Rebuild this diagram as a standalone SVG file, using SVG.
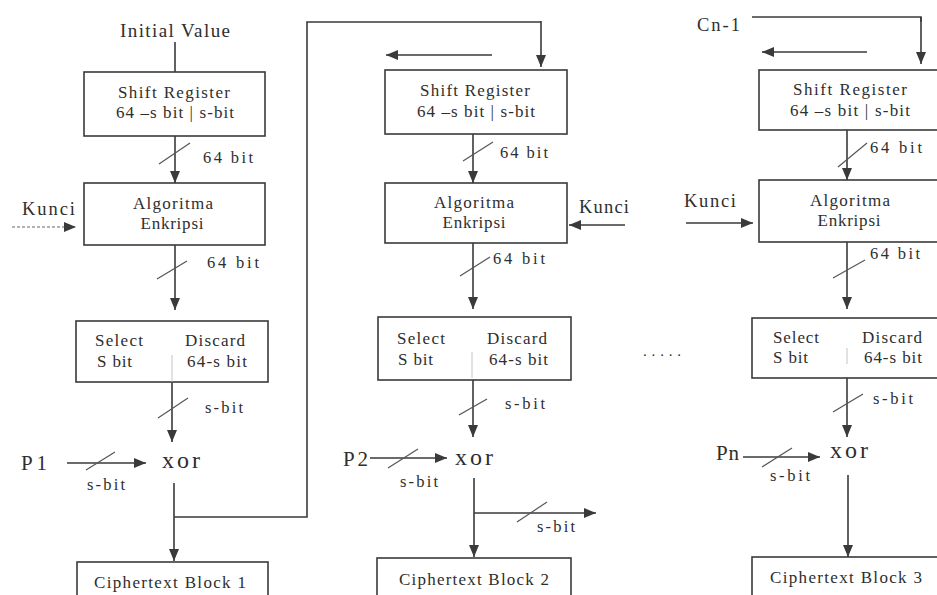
<svg xmlns="http://www.w3.org/2000/svg" width="937" height="595" viewBox="0 0 937 595">
<defs>
<marker id="ah" viewBox="0 0 12 10" refX="12" refY="5" markerWidth="12" markerHeight="10" markerUnits="userSpaceOnUse" orient="auto">
<path d="M0,0 L12,5 L0,10 z" fill="#3a3a3a"/>
</marker>
<style>
text{font-family:"Liberation Serif","Times New Roman",serif;fill:#2e2e2e}
.box{fill:#fff;stroke:#3a3a3a;stroke-width:1.6}
.bt{font-size:17px}
.lb{font-size:16.5px}
.c{text-anchor:middle}
.ln{fill:none;stroke:#3a3a3a;stroke-width:1.6}
.ar{fill:none;stroke:#3a3a3a;stroke-width:1.6;marker-end:url(#ah)}
.sl{stroke:#555;stroke-width:1.2}
.dv{stroke:#c4c4c4;stroke-width:1}
.xor{font-size:24px}
.p{font-size:21px}
.k{font-size:18.5px}
</style>
</defs>
<rect width="937" height="595" fill="#fff"/>

<!-- Column 1 -->
<g id="iv"><text x="175" y="37" class="c" style="font-size:19px" textLength="110" lengthAdjust="spacing">Initial Value</text></g>
<g id="sr1"><rect class="box" x="84" y="72" width="181" height="64"/>
<text class="bt c" x="174" y="98" textLength="112" lengthAdjust="spacing">Shift Register</text>
<text class="bt c" x="175" y="118" textLength="118" lengthAdjust="spacing">64 –s bit | s-bit</text></g>
<g id="ae1"><rect class="box" x="84" y="183" width="181" height="62"/>
<text class="bt c" x="173" y="209" textLength="80" lengthAdjust="spacing">Algoritma</text>
<text class="bt c" x="172" y="229" textLength="63" lengthAdjust="spacing">Enkripsi</text></g>
<g id="k1"><text class="k" x="22" y="215" textLength="53" lengthAdjust="spacing">Kunci</text></g>
<g id="sd1"><rect class="box" x="76" y="321" width="192" height="61"/>
<line class="dv" x1="172" y1="355" x2="172" y2="382"/>
<text class="bt" x="95" y="346" textLength="48" lengthAdjust="spacing">Select</text>
<text class="bt" x="97" y="367" textLength="35" lengthAdjust="spacing">S bit</text>
<text class="bt" x="185" y="346" textLength="60" lengthAdjust="spacing">Discard</text>
<text class="bt" x="187" y="367" textLength="60" lengthAdjust="spacing">64-s bit</text></g>
<g id="x1"><text class="xor" x="162" y="468" textLength="38" lengthAdjust="spacing">xor</text></g>
<g id="p1"><text class="p" x="21" y="470" textLength="26" lengthAdjust="spacing">P1</text></g>
<g id="cb1"><rect class="box" x="77" y="562" width="191" height="45"/>
<text class="bt c" x="170" y="588" textLength="152" lengthAdjust="spacing">Ciphertext Block 1</text></g>

<!-- Column 2 -->
<g id="sr2"><rect class="box" x="385" y="70" width="182" height="64"/>
<text class="bt c" x="475" y="96" textLength="110" lengthAdjust="spacing">Shift Register</text>
<text class="bt c" x="476" y="117" textLength="118" lengthAdjust="spacing">64 –s bit | s-bit</text></g>
<g id="ae2"><rect class="box" x="385" y="183" width="182" height="60"/>
<text class="bt c" x="474" y="208" textLength="80" lengthAdjust="spacing">Algoritma</text>
<text class="bt c" x="474" y="228" textLength="63" lengthAdjust="spacing">Enkripsi</text></g>
<g id="k2"><text class="k" x="579" y="213" textLength="50" lengthAdjust="spacing">Kunci</text></g>
<g id="sd2"><rect class="box" x="378" y="317" width="193" height="63"/>
<line class="dv" x1="472" y1="352" x2="472" y2="378"/>
<text class="bt" x="397" y="344" textLength="48" lengthAdjust="spacing">Select</text>
<text class="bt" x="398" y="365" textLength="35" lengthAdjust="spacing">S bit</text>
<text class="bt" x="487" y="344" textLength="60" lengthAdjust="spacing">Discard</text>
<text class="bt" x="489" y="365" textLength="59" lengthAdjust="spacing">64-s bit</text></g>
<g id="x2"><text class="xor" x="455" y="465" textLength="38" lengthAdjust="spacing">xor</text></g>
<g id="p2"><text class="p" x="343" y="466" textLength="25" lengthAdjust="spacing">P2</text></g>
<g id="cb2"><rect class="box" x="377" y="558" width="194" height="45"/>
<text class="bt c" x="474" y="585" textLength="150" lengthAdjust="spacing">Ciphertext Block 2</text></g>

<!-- Dots -->
<g id="dots"><text x="643" y="356" style="font-size:15px" textLength="38" lengthAdjust="spacing">.....</text></g>

<!-- Column 3 -->
<g id="cn1"><text class="k" x="697" y="31" textLength="43" lengthAdjust="spacing">Cn-1</text></g>
<g id="sr3"><rect class="box" x="759" y="70" width="200" height="60"/>
<text class="bt c" x="850" y="95" textLength="114" lengthAdjust="spacing">Shift Register</text>
<text class="bt c" x="850" y="116" textLength="120" lengthAdjust="spacing">64 –s bit | s-bit</text></g>
<g id="ae3"><rect class="box" x="759" y="180" width="200" height="62"/>
<text class="bt c" x="850" y="206" textLength="80" lengthAdjust="spacing">Algoritma</text>
<text class="bt c" x="849" y="226" textLength="63" lengthAdjust="spacing">Enkripsi</text></g>
<g id="k3"><text class="k" x="684" y="207" textLength="52" lengthAdjust="spacing">Kunci</text></g>
<g id="sd3"><rect class="box" x="752" y="318" width="200" height="60"/>
<line class="dv" x1="847" y1="348" x2="847" y2="364"/>
<text class="bt" x="773" y="343" textLength="46" lengthAdjust="spacing">Select</text>
<text class="bt" x="773" y="363" textLength="35" lengthAdjust="spacing">S bit</text>
<text class="bt" x="862" y="343" textLength="60" lengthAdjust="spacing">Discard</text>
<text class="bt" x="864" y="363" textLength="58" lengthAdjust="spacing">64-s bit</text></g>
<g id="x3"><text class="xor" x="830" y="458" textLength="38" lengthAdjust="spacing">xor</text></g>
<g id="pn"><text class="p" x="716" y="460" textLength="23" lengthAdjust="spacing">Pn</text></g>
<g id="cb3"><rect class="box" x="752" y="557" width="200" height="45"/>
<text class="bt c" x="846" y="583" textLength="152" lengthAdjust="spacing">Ciphertext Block 3</text></g>

<!-- Connectors -->
<g id="connectors">
<!-- col 1 -->
<line class="ln" x1="175" y1="42" x2="175" y2="72"/>
<line class="ar" x1="175" y1="136" x2="175" y2="183"/>
<line class="sl" x1="159" y1="164" x2="190" y2="143"/>
<text class="lb" x="203" y="163" textLength="50" lengthAdjust="spacing">64 bit</text>
<line x1="12" y1="227" x2="76" y2="227" stroke="#666" stroke-width="1.2" stroke-dasharray="3,2" marker-end="url(#ah)"/>
<line class="ar" x1="175" y1="245" x2="175" y2="310"/>
<line class="sl" x1="157" y1="279" x2="187" y2="261"/>
<text class="lb" x="207" y="268" textLength="52" lengthAdjust="spacing">64 bit</text>
<line class="ar" x1="172" y1="382" x2="172" y2="442"/>
<line class="sl" x1="158" y1="418" x2="188" y2="398"/>
<text class="lb" x="205" y="413" textLength="38" lengthAdjust="spacing">s-bit</text>
<line class="ar" x1="67" y1="463" x2="146" y2="463"/>
<line class="sl" x1="86" y1="470" x2="115" y2="452"/>
<text class="lb" x="87" y="490" textLength="38" lengthAdjust="spacing">s-bit</text>
<line class="ar" x1="174" y1="483" x2="174" y2="561"/>
<path class="ln" d="M174,517 H307 V22 H541"/>
<line class="ar" x1="541" y1="21" x2="541" y2="67"/>
<!-- col 2 -->
<line class="ar" x1="492" y1="55" x2="386" y2="55"/>
<line class="ar" x1="473" y1="134" x2="473" y2="183"/>
<line class="sl" x1="463" y1="161" x2="493" y2="142"/>
<text class="lb" x="500" y="158" textLength="48" lengthAdjust="spacing">64 bit</text>
<line class="ar" x1="625" y1="225" x2="569" y2="225"/>
<line class="ar" x1="473" y1="243" x2="473" y2="309"/>
<line class="sl" x1="460" y1="276" x2="490" y2="257"/>
<text class="lb" x="493" y="264" textLength="52" lengthAdjust="spacing">64 bit</text>
<line class="ar" x1="473" y1="380" x2="473" y2="437"/>
<line class="sl" x1="459" y1="415" x2="487" y2="399"/>
<text class="lb" x="505" y="409" textLength="40" lengthAdjust="spacing">s-bit</text>
<line class="ar" x1="370" y1="458" x2="447" y2="458"/>
<line class="sl" x1="388" y1="468" x2="418" y2="449"/>
<text class="lb" x="400" y="487" textLength="38" lengthAdjust="spacing">s-bit</text>
<line class="ar" x1="474" y1="478" x2="474" y2="557"/>
<line class="ar" x1="474" y1="513" x2="596" y2="513"/>
<line class="sl" x1="517" y1="522" x2="547" y2="502"/>
<text class="lb" x="537" y="532" textLength="38" lengthAdjust="spacing">s-bit</text>
<!-- col 3 -->
<path class="ln" d="M752,17 H921 V22"/>
<line class="ar" x1="921" y1="17" x2="921" y2="64"/>
<line class="ar" x1="867" y1="52" x2="762" y2="52"/>
<line class="ar" x1="847" y1="130" x2="847" y2="180"/>
<line class="sl" x1="838" y1="167" x2="867" y2="143"/>
<text class="lb" x="870" y="153" textLength="52" lengthAdjust="spacing">64 bit</text>
<line class="ar" x1="686" y1="223" x2="753" y2="223"/>
<line class="ar" x1="847" y1="242" x2="847" y2="309"/>
<line class="sl" x1="833" y1="278" x2="865" y2="260"/>
<text class="lb" x="870" y="259" textLength="50" lengthAdjust="spacing">64 bit</text>
<line class="ar" x1="847" y1="378" x2="847" y2="437"/>
<line class="sl" x1="833" y1="412" x2="863" y2="394"/>
<text class="lb" x="873" y="404" textLength="40" lengthAdjust="spacing">s-bit</text>
<line class="ar" x1="743" y1="457" x2="820" y2="457"/>
<line class="sl" x1="762" y1="467" x2="792" y2="448"/>
<text class="lb" x="770" y="481" textLength="40" lengthAdjust="spacing">s-bit</text>
<line class="ar" x1="848" y1="475" x2="848" y2="557"/>
</g>
</svg>
